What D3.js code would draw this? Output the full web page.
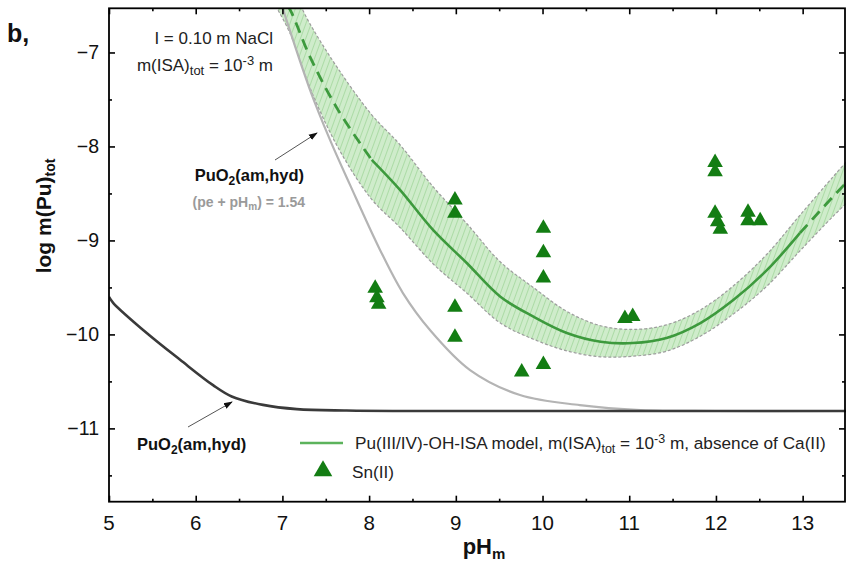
<!DOCTYPE html>
<html>
<head>
<meta charset="utf-8">
<script src="https://cdn.jsdelivr.net/npm/d3@7"></script>
<style>
  body { margin: 0; background: #fff; }
  svg { font-family: Arial, "Liberation Sans", sans-serif; }
</style>
</head>
<body>
<svg id="chart" width="846" height="562"></svg>
<script>
/// DATA ////////////////////////////////////////////////////////////////////////////////

var xMajor = [5, 6, 7, 8, 9, 10, 11, 12, 13];
var xMinor = [5.5, 6.5, 7.5, 8.5, 9.5, 10.5, 11.5, 12.5];
var yMajor = [-11, -10, -9, -8, -7];
var yMinor = [-11.5, -10.5, -9.5, -8.5, -7.5];

// PuO2(am,hyd), black curve
var blackPH  = [5.0, 5.05, 5.435, 5.82, 6.2, 6.415, 6.776, 7.165, 7.74, 8.5, 10, 12, 13.5];
var blackLog = [-9.60, -9.666, -9.985, -10.27, -10.54, -10.66, -10.75, -10.795, -10.81, -10.815, -10.815, -10.815, -10.815];

// PuO2(am,hyd), (pe + pHm) = 1.54, grey curve
var greyPH  = [7.0, 7.318, 7.549, 7.78, 8.126, 8.39, 8.702, 9.164, 9.74, 10.43, 11.13, 12, 13.5];
var greyLog = [-6.52, -7.397, -7.93, -8.409, -9.101, -9.56, -9.953, -10.379, -10.645, -10.752, -10.805, -10.815, -10.815];

// model centre line
var modelPH  = [6.95, 7.088, 7.318, 7.641, 8.03, 8.356, 8.737, 9.126, 9.514, 9.895, 10.28, 10.67, 11.04, 11.43, 11.82, 12.2, 12.59, 12.97, 13.35, 13.5];
var modelLog = [-6.35, -6.545, -7.046, -7.611, -8.143, -8.462, -8.888, -9.24, -9.599, -9.811, -9.985, -10.078, -10.092, -10.038, -9.879, -9.634, -9.314, -8.92, -8.534, -8.388];
// model uncertainty band, upper and lower limits at the same pH values
var upperLog = [-6.15, -6.295, -6.696, -7.171, -7.663, -7.982, -8.428, -8.82, -9.229, -9.501, -9.755, -9.908, -9.947, -9.898, -9.739, -9.484, -9.144, -8.73, -8.324, -8.168];
var lowerLog = [-6.55, -6.795, -7.376, -8.011, -8.563, -8.862, -9.248, -9.56, -9.879, -10.051, -10.175, -10.238, -10.232, -10.178, -10.019, -9.784, -9.484, -9.11, -8.744, -8.608];

// Sn(II) experimental points
var snPH  = [8.07, 8.09, 8.11, 8.99, 8.99, 8.99, 8.99, 9.76, 10.01, 10.01, 10.01, 10.01, 10.95, 11.04, 11.99, 11.99, 11.99, 12.02, 12.05, 12.37, 12.37, 12.51];
var snLog = [-9.51, -9.61, -9.68, -8.57, -8.71, -9.71, -10.03, -10.4, -8.87, -9.13, -9.4, -10.32, -9.83, -9.81, -8.17, -8.27, -8.71, -8.8, -8.88, -8.7, -8.79, -8.79];

/////////////////////////////////////////////////////////////////////////////////////////

var X0 = 109, X1 = 846, Y0 = 8.3, Y1 = 501.7;

var svg = d3.select('#chart');

var x = d3.scaleLinear().domain([5, 13.5]).range([X0, X1]);
var y = d3.scaleLinear().domain([-11.78, -6.53]).range([Y1, Y0]);

function pts(px, py) { return px.map(function (v, i) { return [v, py[i]]; }); }

var line = d3.line()
    .x(function (d) { return x(d[0]); })
    .y(function (d) { return y(d[1]); })
    .curve(d3.curveCatmullRom.alpha(0.5));

var area = d3.area()
    .x(function (d) { return x(d[0]); })
    .y0(function (d) { return y(d[2]); })
    .y1(function (d) { return y(d[1]); })
    .curve(d3.curveCatmullRom.alpha(0.5));

var defs = svg.append('defs');
defs.append('clipPath').attr('id', 'plotClip')
    .append('rect').attr('x', X0).attr('y', Y0).attr('width', X1 - X0).attr('height', Y1 - Y0);

var pat = defs.append('pattern')
    .attr('id', 'hatch')
    .attr('patternUnits', 'userSpaceOnUse')
    .attr('width', 5).attr('height', 5)
    .attr('patternTransform', 'rotate(20)');
pat.append('rect').attr('width', 5).attr('height', 5).attr('fill', '#cfeccb');
pat.append('line').attr('x1', 0).attr('y1', 0).attr('x2', 0).attr('y2', 5)
    .attr('stroke', '#acdba6').attr('stroke-width', 2);

var plot = svg.append('g').attr('clip-path', 'url(#plotClip)');

// uncertainty band
var band = modelPH.map(function (v, i) { return [v, upperLog[i], lowerLog[i]]; });
plot.append('path').datum(band).attr('d', area).attr('fill', 'url(#hatch)').attr('stroke', 'none');
[upperLog, lowerLog].forEach(function (edge) {
    plot.append('path').attr('d', line(pts(modelPH, edge)))
        .attr('fill', 'none').attr('stroke', '#9d9d9d')
        .attr('stroke-width', 1.2).attr('stroke-dasharray', '3,2');
});

// grey and black curves
plot.append('path').attr('d', line(pts(greyPH, greyLog)))
    .attr('fill', 'none').attr('stroke', '#b4b4b4').attr('stroke-width', 2.2);
plot.append('path').attr('d', line(pts(blackPH, blackLog)))
    .attr('fill', 'none').attr('stroke', '#3a3a3a').attr('stroke-width', 2.6);

// model centre line: dashed outside pH 8 - 13, solid inside
var model = pts(modelPH, modelLog);
var solid = model.filter(function (d) { return d[0] >= 8.0 && d[0] <= 13.0; });
var dashL = model.filter(function (d) { return d[0] <= 8.05; });
var dashR = model.filter(function (d) { return d[0] >= 12.95; });
plot.append('path').attr('d', line(solid))
    .attr('fill', 'none').attr('stroke', '#3d9a3d').attr('stroke-width', 2.6);
[dashL, dashR].forEach(function (seg) {
    plot.append('path').attr('d', line(seg))
        .attr('fill', 'none').attr('stroke', '#3d9a3d').attr('stroke-width', 2.8)
        .attr('stroke-dasharray', '11,7');
});

// Sn(II) triangles
var tri = d3.symbol().type(d3.symbolTriangle).size(105);
plot.selectAll('.sn')
    .data(pts(snPH, snLog))
    .enter()
    .append('path')
        .attr('class', 'sn')
        .attr('d', tri)
        .attr('transform', function (d) { return 'translate(' + x(d[0]) + ',' + y(d[1]) + ')'; })
        .attr('fill', '#137d13');

/// AXES ////////////////////////////////////////////////////////////////////////////////

function tickAxis(axisFn, scale, values, size, tr) {
    var g = svg.append('g').attr('transform', tr)
        .call(axisFn(scale).tickValues(values).tickSizeInner(size).tickSizeOuter(0).tickFormat(''));
    g.select('.domain').remove();
    g.selectAll('line').attr('stroke', '#000').attr('stroke-width', 1.6);
    return g;
}

// bottom
tickAxis(d3.axisTop, x, xMajor, 6, 'translate(0,' + Y1 + ')');
tickAxis(d3.axisTop, x, xMinor, 3, 'translate(0,' + Y1 + ')');
svg.append('g').selectAll('text').data(xMajor).enter().append('text')
    .attr('x', function (d) { return x(d); }).attr('y', 530)
    .attr('text-anchor', 'middle').attr('font-size', 20.5).attr('fill', '#111')
    .text(function (d) { return d; });
// top
tickAxis(d3.axisBottom, x, xMajor, 6, 'translate(0,' + Y0 + ')');
tickAxis(d3.axisBottom, x, xMinor, 3, 'translate(0,' + Y0 + ')');
// left
tickAxis(d3.axisRight, y, yMajor, 6, 'translate(' + X0 + ',0)');
tickAxis(d3.axisRight, y, yMinor, 3, 'translate(' + X0 + ',0)');
svg.append('g').selectAll('text').data(yMajor).enter().append('text')
    .attr('x', 99).attr('y', function (d) { return y(d) + 7; })
    .attr('text-anchor', 'end').attr('font-size', 19.5).attr('fill', '#111')
    .text(function (d) { return '\u2212' + Math.abs(d); });
// right
tickAxis(d3.axisLeft, y, yMajor, 6, 'translate(' + (X1 - 1) + ',0)');
tickAxis(d3.axisLeft, y, yMinor, 3, 'translate(' + (X1 - 1) + ',0)');

// frame
svg.append('rect').attr('x', X0).attr('y', Y0).attr('width', X1 - 1 - X0).attr('height', Y1 - Y0)
    .attr('fill', 'none').attr('stroke', '#000').attr('stroke-width', 1.8);

// axis titles
var xt = svg.append('text').attr('x', 484).attr('y', 554).attr('text-anchor', 'middle')
    .attr('font-size', 22).attr('font-weight', 'bold').attr('fill', '#111');
xt.append('tspan').text('pH');
xt.append('tspan').attr('baseline-shift', '-30%').attr('font-size', 15).text('m');

var yt = svg.append('text').attr('transform', 'translate(51,216) rotate(-90)')
    .attr('text-anchor', 'middle').attr('font-size', 21).attr('font-weight', 'bold').attr('fill', '#111');
yt.append('tspan').text('log m(Pu)');
yt.append('tspan').attr('baseline-shift', '-30%').attr('font-size', 14).text('tot');

svg.append('text').attr('x', 7).attr('y', 42).attr('font-size', 25).attr('font-weight', 'bold')
    .attr('fill', '#111').text('b,');

/// ANNOTATIONS /////////////////////////////////////////////////////////////////////////

svg.append('text').attr('x', 273).attr('y', 44).attr('text-anchor', 'end')
    .attr('font-size', 17).attr('fill', '#222').text('I = 0.10 m NaCl');
var t2 = svg.append('text').attr('x', 273).attr('y', 71).attr('text-anchor', 'end')
    .attr('font-size', 17).attr('fill', '#222');
t2.append('tspan').text('m(ISA)');
t2.append('tspan').attr('baseline-shift', '-30%').attr('font-size', 13).text('tot');
t2.append('tspan').text(' = 10');
t2.append('tspan').attr('baseline-shift', '45%').attr('font-size', 13).text('-3');
t2.append('tspan').text(' m');

defs.append('marker').attr('id', 'arrow')
    .attr('viewBox', '0 0 10 10').attr('refX', 9).attr('refY', 5)
    .attr('markerWidth', 9).attr('markerHeight', 9).attr('orient', 'auto')
    .append('path').attr('d', 'M0,1.5 L10,5 L0,8.5 Z').attr('fill', '#111');

svg.append('line').attr('x1', 275).attr('y1', 160).attr('x2', 317).attr('y2', 133)
    .attr('stroke', '#555').attr('stroke-width', 1).attr('marker-end', 'url(#arrow)');
svg.append('line').attr('x1', 188).attr('y1', 427).attr('x2', 232).attr('y2', 402)
    .attr('stroke', '#555').attr('stroke-width', 1).attr('marker-end', 'url(#arrow)');

function puLabel(xp, yp, anchor) {
    var t = svg.append('text').attr('x', xp).attr('y', yp).attr('text-anchor', anchor)
        .attr('font-size', 16.5).attr('font-weight', 'bold').attr('fill', '#111');
    t.append('tspan').text('PuO');
    t.append('tspan').attr('baseline-shift', '-30%').attr('font-size', 12).text('2');
    t.append('tspan').text('(am,hyd)');
}
puLabel(304, 181, 'end');
puLabel(137, 450, 'start');

var pe = svg.append('text').attr('x', 305).attr('y', 207).attr('text-anchor', 'end')
    .attr('font-size', 14).attr('font-weight', 'bold').attr('fill', '#9a9a9a');
pe.append('tspan').text('(pe + pH');
pe.append('tspan').attr('baseline-shift', '-30%').attr('font-size', 10).text('m');
pe.append('tspan').text(') = 1.54');

/// LEGEND //////////////////////////////////////////////////////////////////////////////

svg.append('line').attr('x1', 300).attr('y1', 443).attr('x2', 343).attr('y2', 443)
    .attr('stroke', '#5cb35c').attr('stroke-width', 2.6);
var lg = svg.append('text').attr('x', 355).attr('y', 449).attr('font-size', 17.2).attr('fill', '#222');
lg.append('tspan').text('Pu(III/IV)-OH-ISA model, m(ISA)');
lg.append('tspan').attr('baseline-shift', '-30%').attr('font-size', 12.5).text('tot');
lg.append('tspan').text(' = 10');
lg.append('tspan').attr('baseline-shift', '45%').attr('font-size', 12.5).text('-3');
lg.append('tspan').text(' m, absence of Ca(II)');

svg.append('path').attr('d', d3.symbol().type(d3.symbolTriangle).size(150))
    .attr('transform', 'translate(323,471)').attr('fill', '#137d13');
svg.append('text').attr('x', 352).attr('y', 478).attr('font-size', 17.2).attr('fill', '#222').text('Sn(II)');
</script>
</body>
</html>
